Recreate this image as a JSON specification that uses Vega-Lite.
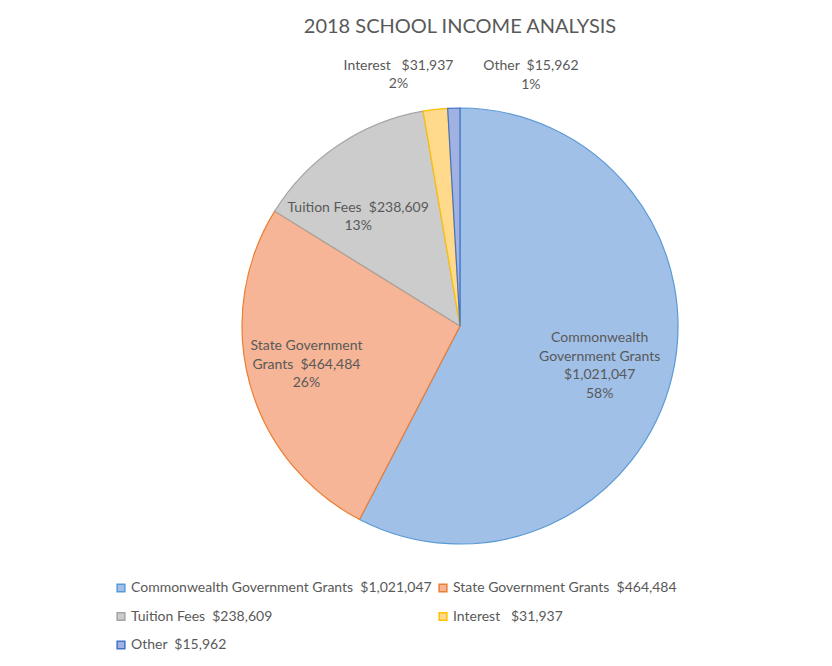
{
  "$schema": "https://vega.github.io/schema/vega-lite/v6.json",
  "width": 436,
  "height": 436,
  "autosize": {"type": "none"},
  "padding": {"left": 242, "top": 108, "right": 154, "bottom": 122},
  "background": "white",
  "title": {
    "text": "2018 SCHOOL INCOME ANALYSIS",
    "font": "Lato",
    "fontSize": 20,
    "fontWeight": "normal",
    "color": "#595959",
    "offset": 20,
    "anchor": "middle",
    "frame": "group"
  },
  "data": {
    "values": [
      {"category": "Commonwealth Government Grants", "legend": "Commonwealth Government Grants\u00a0 $1,021,047", "value": 1021047, "label": "Commonwealth\nGovernment Grants\n$1,021,047\n58%"},
      {"category": "State Government Grants", "legend": "State Government Grants\u00a0 $464,484", "value": 464484, "label": "State Government\nGrants\u00a0 $464,484\n26%"},
      {"category": "Tuition Fees", "legend": "Tuition Fees\u00a0 $238,609", "value": 238609, "label": "Tuition Fees\u00a0 $238,609\n13%"},
      {"category": "Interest", "legend": "Interest\u00a0\u00a0 $31,937", "value": 31937, "label": "Interest\u00a0\u00a0 $31,937\n2%"},
      {"category": "Other", "legend": "Other\u00a0 $15,962", "value": 15962, "label": "Other\u00a0 $15,962\n1%"}
    ]
  },
  "encoding": {
    "theta": {"field": "value", "type": "quantitative", "stack": true},
    "order": {"field": "value", "type": "quantitative", "sort": "descending"}
  },
  "layer": [
    {
      "mark": {"type": "arc", "outerRadius": 218, "strokeWidth": 1.2},
      "encoding": {
        "fill": {
          "field": "legend", "type": "nominal",
          "scale": {
            "domain": ["Commonwealth Government Grants\u00a0 $1,021,047", "State Government Grants\u00a0 $464,484", "Tuition Fees\u00a0 $238,609", "Interest\u00a0\u00a0 $31,937", "Other\u00a0 $15,962"],
            "range": ["#a0c0e7", "#f5b596", "#cccccc", "#ffd98c", "#9fb2e2"]
          },
          "legend": {
            "title": null,
            "orient": "none",
            "direction": "horizontal",
            "legendX": -128,
            "legendY": 473,
            "columns": 2,
            "columnPadding": 4,
            "rowPadding": 14.5,
            "symbolType": "square",
            "symbolSize": 60,
            "labelFont": "Lato",
            "labelFontSize": 14,
            "labelColor": "#595959",
            "labelLimit": 400,
            "labelOffset": 3
          }
        },
        "stroke": {
          "field": "legend", "type": "nominal",
          "scale": {
            "domain": ["Commonwealth Government Grants\u00a0 $1,021,047", "State Government Grants\u00a0 $464,484", "Tuition Fees\u00a0 $238,609", "Interest\u00a0\u00a0 $31,937", "Other\u00a0 $15,962"],
            "range": ["#5b9bd5", "#ed7d31", "#a5a5a5", "#ffc000", "#4472c4"]
          },
          "legend": {
            "title": null,
            "orient": "none",
            "direction": "horizontal",
            "legendX": -128,
            "legendY": 473,
            "columns": 2,
            "columnPadding": 4,
            "rowPadding": 14.5,
            "symbolType": "square",
            "symbolSize": 60,
            "labelFont": "Lato",
            "labelFontSize": 14,
            "labelColor": "#595959",
            "labelLimit": 400,
            "labelOffset": 3
          }
        }
      }
    },
    {
      "mark": {"type": "text", "radius": 152, "dx": -8, "dy": -24, "font": "Lato", "fontSize": 14, "color": "#595959", "lineBreak": "\n", "lineHeight": 18.5, "align": "center", "baseline": "middle"},
      "encoding": {"text": {"condition": {"test": "datum.category === 'Commonwealth Government Grants'", "field": "label"}, "value": ""}}
    },
    {
      "mark": {"type": "text", "radius": 152, "dx": -7, "dy": -20, "font": "Lato", "fontSize": 14, "color": "#595959", "lineBreak": "\n", "lineHeight": 18.5, "align": "center", "baseline": "middle"},
      "encoding": {"text": {"condition": {"test": "datum.category === 'State Government Grants'", "field": "label"}, "value": ""}}
    },
    {
      "mark": {"type": "text", "radius": 150, "dx": -18, "dy": 6, "font": "Lato", "fontSize": 14, "color": "#595959", "lineBreak": "\n", "lineHeight": 18.5, "align": "center", "baseline": "middle"},
      "encoding": {"text": {"condition": {"test": "datum.category === 'Tuition Fees'", "field": "label"}, "value": ""}}
    },
    {
      "mark": {"type": "text", "radius": 252, "dx": -33, "dy": -10, "font": "Lato", "fontSize": 14, "color": "#595959", "lineBreak": "\n", "lineHeight": 18.5, "align": "center", "baseline": "middle"},
      "encoding": {"text": {"condition": {"test": "datum.category === 'Interest'", "field": "label"}, "value": ""}}
    },
    {
      "mark": {"type": "text", "radius": 252, "dx": 78, "dy": -8, "font": "Lato", "fontSize": 14, "color": "#595959", "lineBreak": "\n", "lineHeight": 18.5, "align": "center", "baseline": "middle"},
      "encoding": {"text": {"condition": {"test": "datum.category === 'Other'", "field": "label"}, "value": ""}}
    }
  ],
  "config": {"view": {"stroke": null}}
}
